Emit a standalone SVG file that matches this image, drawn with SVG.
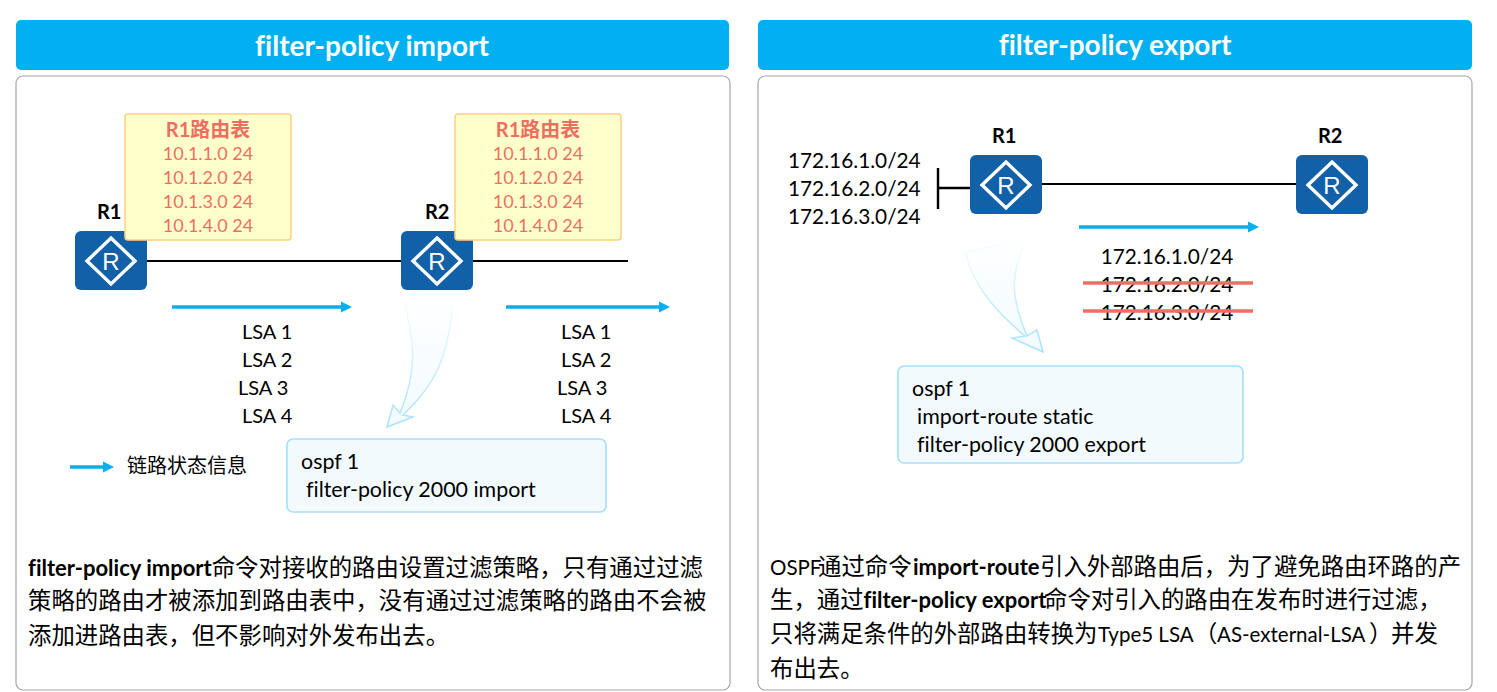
<svg xmlns="http://www.w3.org/2000/svg" width="1497" height="692" viewBox="0 0 1497 692">
<style>
text{font-family:Lato,"Noto Sans CJK SC",sans-serif;fill:#000;font-variant-ligatures:none}
.hd{fill:#00b0f0}
.hdt{font-size:28px;font-weight:700;fill:#fff;text-anchor:middle}
.panel{fill:#fff;stroke:#a6a6a6;stroke-width:1.2}
.tbl{fill:#ffffcc;stroke:#ffd080;stroke-width:1.5}
.red{font-size:18px;fill:#ee6f62;text-anchor:middle}
.redb{font-size:20px;fill:#ee6f62;text-anchor:middle;font-weight:700}
.t{font-size:20px}
.k{font-size:21.400px}
.n{font-size:20.800px}
.c{font-size:20.800px;text-anchor:middle}
.b{font-size:20px;font-weight:700}
.cfg{fill:#f3fafe;stroke:#a5e2fa;stroke-width:1.7}
.para{font-size:23.400px}
.para .s{font-weight:700;font-size:22px}
.para .l{font-size:20.500px}
.rbody{fill:#1160a8}
.rd{fill:none;stroke:#fff;stroke-width:3.4}
.rt{font-size:24px;fill:#fff;text-anchor:middle;font-family:"Liberation Sans",sans-serif}
.line{stroke:#000;stroke-width:1.8;fill:none}
.stub{stroke:#000;stroke-width:2.4;fill:none}
.flow{stroke:#00b0f0;stroke-width:3.5;fill:none;marker-end:url(#ah)}
.strike{stroke:#ee6f62;stroke-width:3.5}
</style>
<defs>
<marker id="ah" markerUnits="userSpaceOnUse" markerWidth="12" markerHeight="12" refX="1" refY="6" orient="auto"><path d="M0 0.500 L11 6 L0 11.500 Z" fill="#00b0f0"/></marker>
<linearGradient id="gf1" gradientUnits="userSpaceOnUse" x1="0" y1="296" x2="0" y2="427"><stop offset="0" stop-color="#fff"/><stop offset="1" stop-color="#f1faff"/></linearGradient>
<linearGradient id="gs1" gradientUnits="userSpaceOnUse" x1="0" y1="296" x2="0" y2="427"><stop offset="0" stop-color="#a5e2fa" stop-opacity="0"/><stop offset="1" stop-color="#a5e2fa"/></linearGradient>
<linearGradient id="gf2" gradientUnits="userSpaceOnUse" x1="0" y1="237" x2="0" y2="352"><stop offset="0" stop-color="#fff"/><stop offset="1" stop-color="#f1faff"/></linearGradient>
<linearGradient id="gs2" gradientUnits="userSpaceOnUse" x1="0" y1="237" x2="0" y2="352"><stop offset="0" stop-color="#a5e2fa" stop-opacity="0"/><stop offset="1" stop-color="#a5e2fa"/></linearGradient>
<g id="router"><rect width="72" height="59" rx="6" class="rbody"/><path class="rd" d="M36 7 L60 30 L36 53 L12 30 Z"/><text x="36" y="38.500" class="rt">R</text></g>
</defs>

<g id="panel-left">
<rect x="16" y="20" width="713" height="50" rx="5" class="hd"/>
<text x="372" y="56" class="hdt">filter-policy import</text>
<rect x="16" y="76" width="714" height="614" rx="7" class="panel"/>
</g>
<g id="panel-right">
<rect x="758" y="20" width="714" height="50" rx="5" class="hd"/>
<text x="1115" y="55" class="hdt">filter-policy export</text>
<rect x="758" y="76" width="714" height="614" rx="7" class="panel"/>
</g>

<g id="connectors">
<path class="line" d="M147 261 H628"/>
<path class="stub" d="M938 168 V209 M938 188 H970"/>
<path class="line" d="M1042 184 H1296"/>
<path class="flow" d="M172 307 H342"/>
<path class="flow" d="M506 307 H660"/>
<path class="flow" d="M70 467 H104"/>
<path class="flow" d="M1079 227 H1249"/>
<path d="M402 296 C415 340 418 370 400 413 L393 405 L387 427 L413 417 L403 415 C435 385 448 360 454 296 Z" fill="url(#gf1)" stroke="url(#gs1)" stroke-width="1.500"/>
<path d="M965 253 C975 290 1000 315 1025 336 L1012 338 L1043 352 L1037 330 L1027 336 C1012 300 1008 275 1028 237 Z" fill="url(#gf2)" stroke="url(#gs2)" stroke-width="1.500"/>
</g>

<g id="node-r1-left"><use href="#router" x="75" y="231"/><text x="97" y="219" class="b">R1</text></g>
<g id="node-r2-left"><use href="#router" x="401" y="231"/><text x="425" y="219" class="b">R2</text></g>
<g id="node-r1-right"><use href="#router" x="970" y="155"/><text x="992" y="143" class="b">R1</text></g>
<g id="node-r2-right"><use href="#router" x="1296" y="155"/><text x="1318" y="143" class="b">R2</text></g>

<g id="table-1">
<rect x="125" y="114" width="166" height="126" rx="3" class="tbl"/>
<text x="208" y="137" class="redb">R1路由表</text>
<text x="208" y="160" class="red">10.1.1.0 24</text>
<text x="208" y="184" class="red">10.1.2.0 24</text>
<text x="208" y="208" class="red">10.1.3.0 24</text>
<text x="208" y="232" class="red">10.1.4.0 24</text>
</g>
<g id="table-2">
<rect x="455" y="114" width="166" height="126" rx="3" class="tbl"/>
<text x="538" y="137" class="redb">R1路由表</text>
<text x="538" y="160" class="red">10.1.1.0 24</text>
<text x="538" y="184" class="red">10.1.2.0 24</text>
<text x="538" y="208" class="red">10.1.3.0 24</text>
<text x="538" y="232" class="red">10.1.4.0 24</text>
</g>

<g id="lsa-1">
<text x="242" y="339" class="t">LSA 1</text>
<text x="242" y="367" class="t">LSA 2</text>
<text x="238" y="395" class="t">LSA 3</text>
<text x="242" y="423" class="t">LSA 4</text>
</g>
<g id="lsa-2">
<text x="561" y="339" class="t">LSA 1</text>
<text x="561" y="367" class="t">LSA 2</text>
<text x="557" y="395" class="t">LSA 3</text>
<text x="561" y="423" class="t">LSA 4</text>
</g>
<g id="legend"><text x="127" y="473" style="font-size:20px">链路状态信息</text></g>

<g id="config-import">
<rect x="287" y="439" width="319" height="73" rx="6" class="cfg"/>
<text x="301" y="469" class="k">ospf 1</text>
<text x="306" y="497" class="k">filter-policy 2000 import</text>
</g>
<g id="config-export">
<rect x="898" y="366" width="345" height="97" rx="6" class="cfg"/>
<text x="912" y="396" class="k">ospf 1</text>
<text x="917" y="424" class="k">import-route static</text>
<text x="917" y="452" class="k">filter-policy 2000 export</text>
</g>

<g id="prefixes-src">
<text x="788" y="168" class="n">172.16.1.0/24</text>
<text x="788" y="196" class="n">172.16.2.0/24</text>
<text x="788" y="224" class="n">172.16.3.0/24</text>
</g>
<g id="prefixes-out">
<text x="1167" y="264" class="c">172.16.1.0/24</text>
<text x="1167" y="292" class="c">172.16.2.0/24</text>
<text x="1167" y="320" class="c">172.16.3.0/24</text>
<path class="strike" d="M1083 283 H1253 M1083 311 H1253"/>
</g>

<g id="text-left">
<text x="28" y="576" class="para"><tspan class="s">filter-policy import</tspan>命令对接收的路由设置过滤策略，只有通过过滤</text>
<text x="28" y="609" class="para">策略的路由才被添加到路由表中，没有通过过滤策略的路由不会被</text>
<text x="28" y="644" class="para">添加进路由表，但不影响对外发布出去。</text>
</g>
<g id="text-right">
<text x="770" y="575" class="para"><tspan class="l">OSPF</tspan><tspan x="818">通过命令</tspan><tspan class="s" x="913">import-route</tspan><tspan x="1040">引入外部路由后，为了避免路由环路的产</tspan></text>
<text x="770" y="608" class="para">生，通过<tspan class="s">filter-policy export</tspan><tspan x="1044">命令对引入的路由在发布时进行过滤，</tspan></text>
<text x="770" y="642" class="para">只将满足条件的外部路由转换为<tspan class="l" x="1098">Type5 LSA</tspan><tspan x="1194">（</tspan><tspan class="l" x="1217">AS-external-LSA</tspan><tspan x="1369">）</tspan><tspan x="1391">并发</tspan></text>
<text x="770" y="677" class="para">布出去。</text>
</g>
</svg>
